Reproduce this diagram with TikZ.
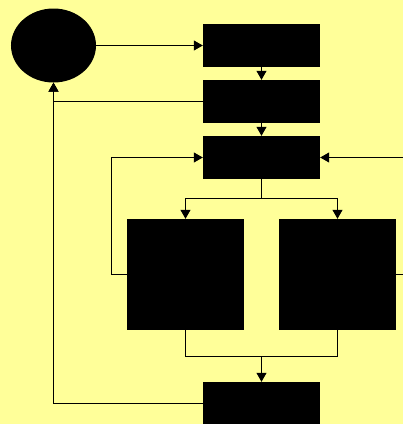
\documentclass[tikz,border=0pt]{standalone}
\usetikzlibrary{shapes.geometric,arrows.meta}
\definecolor{bgyellow}{HTML}{FFFF99}
\tikzset{
	blk/.style={rectangle,fill=black,inner sep=0pt,minimum width=117bp,minimum height=43bp},
	bigblk/.style={rectangle,fill=black,inner sep=0pt,minimum width=117bp,minimum height=111bp},
	oval/.style={ellipse,fill=black,inner sep=0pt,minimum width=85bp,minimum height=74bp},
	flow/.style={-{Triangle[length=9bp,width=10bp]},line width=1bp},
	wire/.style={line width=1bp}
}

\begin{document}
\begin{tikzpicture}[x=1bp,y=-1bp]
						\fill[bgyellow] (0,0) rectangle (403,424);
						\useasboundingbox (0,0) rectangle (403,424);
						\clip (0,0) rectangle (403,424);

						\node [oval] (start) at (53.5,45.5) {};
						\node [blk] (b1) at (261.5,45.5) {};
						\node [blk] (b2) at (261.5,101.5) {};
						\node [blk] (b3) at (261.5,157.5) {};
						\node [bigblk] (left) at (185.5,274.5) {};
						\node [bigblk] (right) at (337.5,274.5) {};
						\node [blk] (b6) at (261.5,403.5) {};

						\coordinate (split) at (261.5,198.5);
						\coordinate (join) at (261.5,356.5);
						\coordinate (lloop) at (111.5,274.5);
						\coordinate (rloop) at (415,274.5);

						\draw[flow] (start) -- (b1);
						\draw[flow] (b1) -- (b2);
						\draw[flow] (b2) -- (b3);
						\draw[flow] (b2.west) -| (start);
						\draw[flow] (b6.west) -| (start);
						\draw[wire] (b3) -- (split);
						\draw[flow] (split) -| (left);
						\draw[flow] (split) -| (right);
						\draw[wire] (left) |- (join);
						\draw[wire] (right) |- (join);
						\draw[flow] (join) -- (b6);
						\draw[flow] (left.west) -- (lloop) |- (b3);
						\draw[flow] (right.east) -- (rloop) |- (b3);
					\end{tikzpicture}
\end{document}
